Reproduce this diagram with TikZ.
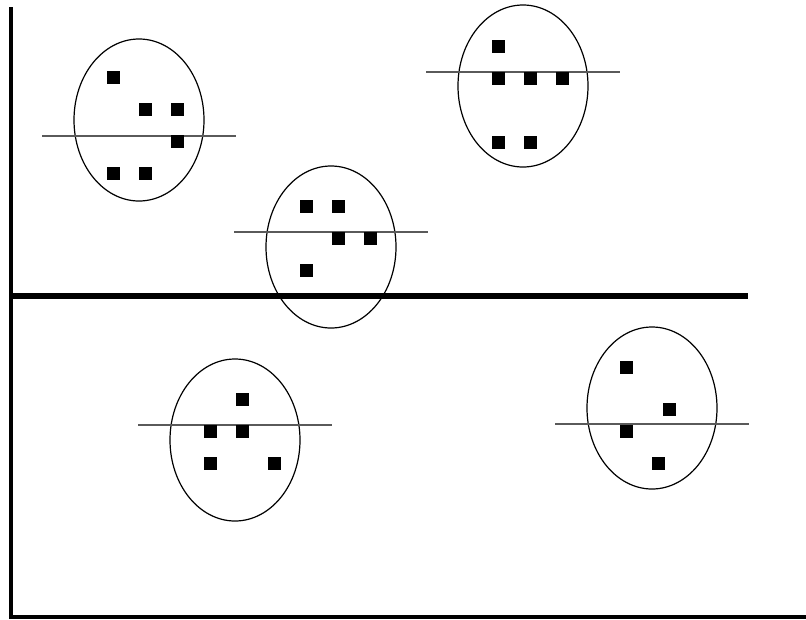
\documentclass[tikz,border=0pt]{standalone}
\usepackage{xcolor}
\usepackage{tikz}
\definecolor{splitgray}{HTML}{5A5A5A}

\begin{document}
\begin{tikzpicture}[x=1pt,y=-1pt]
  \useasboundingbox (0,0) rectangle (806,619);
  % axes
  \draw[black,line width=4pt] (11,7) -- (11,616.5) -- (806,616.5);
  % clusters: centre and offset of the split line
  \foreach \cx/\cy/\dy in {139/120/16,523/86/-14,331/247/-15,235/440/-15,652/408/16}{
    \draw[black,line width=1.2pt] (\cx,\cy) ellipse [x radius=65, y radius=81];
    \draw[splitgray,line width=1.5pt] (\cx-97,\cy+\dy) -- (\cx+97,\cy+\dy);
  }
  % points
  \foreach \px/\py in {113/77,145/109,177/109,177/141,113/173,145/173,
                       498/46,498/78,530/78,562/78,498/142,530/142,
                       306/206,338/206,338/238,370/238,306/270,
                       242/399,210/431,242/431,210/463,274/463,
                       626/367,669/409,626/431,658/463}{
    \fill[black] (\px-6.5,\py-6.5) rectangle (\px+6.5,\py+6.5);
  }
  % threshold
  \draw[black,line width=6pt] (11,296) -- (748,296);
\end{tikzpicture}
\end{document}
